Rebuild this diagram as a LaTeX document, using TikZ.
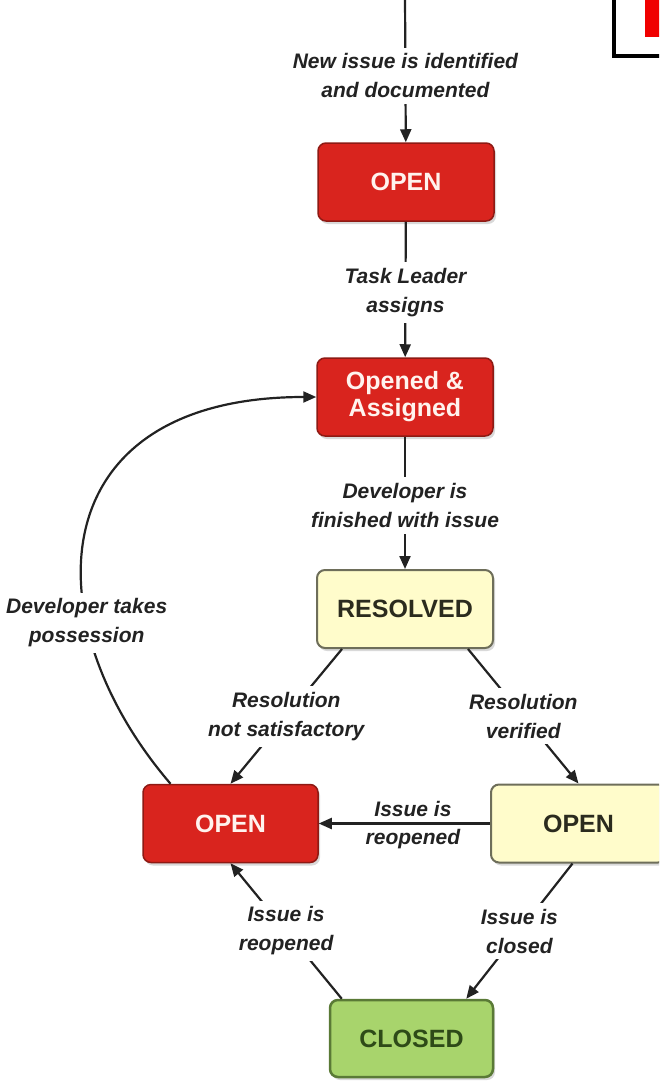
\documentclass[tikz,border=0pt]{standalone}
\usepackage{fontspec}
\setmainfont{Liberation Sans}
\usetikzlibrary{arrows.meta,shadows}
\definecolor{redfill}{HTML}{D9241E}
\definecolor{redline}{HTML}{8E1A14}
\definecolor{redtext}{HTML}{FFF3EE}
\definecolor{yelfill}{HTML}{FFFCCB}
\definecolor{yelline}{HTML}{6E6E5A}
\definecolor{yeltext}{HTML}{2B2B1E}
\definecolor{grnfill}{HTML}{A8D46C}
\definecolor{grnline}{HTML}{5A7A36}
\definecolor{grntext}{HTML}{2E4A18}
\definecolor{ink}{HTML}{222222}
\definecolor{flagred}{HTML}{F00000}
\begin{document}
\begin{tikzpicture}[x=1pt,y=-1pt,
  box/.style={rounded corners=8pt, minimum width=176pt, minimum height=78pt, align=center,
    font=\bfseries\fontsize{25}{27}\selectfont, line width=1.5pt,
    drop shadow={shadow xshift=2pt,shadow yshift=-3pt,opacity=0.3}},
  redbox/.style={box, fill=redfill, draw=redline, text=redtext},
  yelbox/.style={box, fill=yelfill, draw=yelline, text=yeltext, line width=2pt},
  grnbox/.style={box, fill=grnfill, draw=grnline, text=grntext, line width=2.5pt},
  conn/.style={draw=ink, line width=2.2pt, -{Triangle[length=13pt,width=11pt]}},
  lbl/.style={fill=white, inner sep=6pt, align=center, text=ink,
    font=\bfseries\itshape\fontsize{21}{29}\selectfont},
  lblnf/.style={inner sep=2pt, align=center, text=ink,
    font=\bfseries\itshape\fontsize{21}{29}\selectfont}]
\useasboundingbox (0,0) rectangle (659,1084);
\clip (0,0) rectangle (659,1084);

% corner decoration
\fill[flagred] (645,-10) rectangle (700,37);
\draw[line width=4pt] (614,-10) rectangle (700,56);

% boxes
\node[redbox] (open1) at (406,182) {OPEN};
\node[redbox] (oa) at (405,397) {Opened \&\\Assigned};
\node[yelbox] (res) at (405,609) {RESOLVED};
\node[redbox, minimum width=175pt] (ropen) at (230.5,823.5) {OPEN};
\node[yelbox, minimum width=175pt] (yopen) at (578.5,823.5) {OPEN};
\node[grnbox, minimum width=163pt, minimum height=77pt] (closed) at (411.5,1038.5) {CLOSED};

\coordinate (src) at (405,-5);

% main chain
\draw[conn] (src) -- node[lbl,pos=0.55]{New issue is identified\\and documented} (open1);
\draw[conn] (open1) -- node[lbl,pos=0.52]{Task Leader\\assigns} (oa);
\draw[conn] (oa) -- node[lbl,pos=0.52]{Developer is\\finished with issue} (res);

% from resolved
\draw[conn] ([xshift=26pt]res.south west) -- node[lbl]{Resolution\\not satisfactory} (ropen.north);
\draw[conn] ([xshift=-26pt]res.south east) -- node[lbl]{Resolution\\verified} (yopen.north);

% reopen horizontal
\draw[conn] (yopen.west) -- node[lblnf,pos=0.45,above=4pt]{Issue is} node[lblnf,pos=0.45,below=3pt]{reopened} (ropen.east);

% closed links
\draw[conn] ([xshift=13pt]closed.north west) -- node[lbl]{Issue is\\reopened} (ropen.south);
\draw[conn] ([xshift=-6pt]yopen.south) -- node[lbl]{Issue is\\closed} ([xshift=-28pt]closed.north east);

% loop back
\draw[conn] ([xshift=-60pt]ropen.north) .. controls (30,620) and (40,397) ..
  node[lbl,pos=0.31]{Developer takes\\possession} (oa.west);
\end{tikzpicture}
\end{document}
